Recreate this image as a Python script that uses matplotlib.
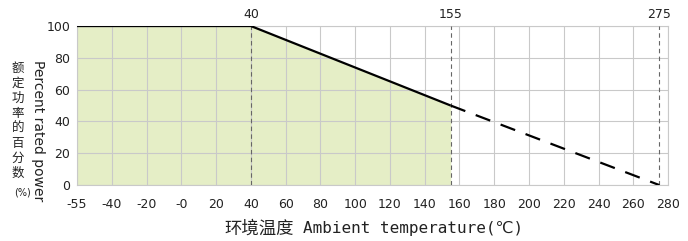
import matplotlib
matplotlib.use("Agg")
import matplotlib.pyplot as plt
import numpy as np

# Data
solid_temp = [-55, 40, 155]
solid_power = [100, 100, 50]
dash_temp = [155, 275]
dash_power = [50, 0]
xtick_vals = [-55, -40, -20, 0, 20, 40, 60, 80, 100, 120, 140, 160, 180, 200, 220, 240, 260, 280]
xtick_labels = ["-55", "-40", "-20", "-0", "20", "40", "60", "80", "100", "120", "140",
                "160", "180", "200", "220", "240", "260", "280"]
ytick_vals = [0, 20, 40, 60, 80, 100]
marker_temps = [40, 155, 275]


def fwd(x):
    x = np.asarray(x, dtype=float)
    return np.where(x >= -40, x, -40 + (x + 40) * (20.0 / 15.0))


def inv(y):
    y = np.asarray(y, dtype=float)
    return np.where(y >= -40, y, -40 + (y + 40) * (15.0 / 20.0))


fig = plt.figure(figsize=(6.88, 2.41), dpi=100)
ax = fig.add_axes([0.112, 0.232, 0.859, 0.66])
ax.set_xscale("function", functions=(fwd, inv))
ax.set_xlim(-55, 280)
ax.set_ylim(0, 100)

grid_c = "#c9c9c9"
ax.set_xticks(xtick_vals)
ax.set_xticklabels(xtick_labels)
ax.set_yticks(ytick_vals)
ax.tick_params(length=0, labelsize=9, colors="#222222")
ax.tick_params(axis="x", pad=9)
ax.tick_params(axis="y", pad=5)
ax.grid(True, color=grid_c, lw=0.8)
for s in ax.spines.values():
    s.set_color(grid_c)
    s.set_linewidth(0.8)

ax.fill_between(solid_temp, solid_power, 0, color="#e5eec6", lw=0, zorder=1)
ax.plot(solid_temp, solid_power, color="black", lw=1.6, zorder=4, solid_capstyle="butt")
ax.plot(dash_temp, dash_power, color="black", lw=1.6, zorder=4, dashes=(7, 5))

for t in marker_temps:
    ax.axvline(t, color="#666666", lw=0.8, dashes=(4, 3), zorder=3)
    ax.text(t, 103, str(t), ha="center", va="bottom", fontsize=9, color="#222222")

fig.text(0.427, 0.052, "环境温度", ha="right", va="center",
         fontsize=12.5, family=["Noto Sans CJK SC"], color="#222222")
fig.text(0.44, 0.052, "Ambient temperature(℃)", ha="left", va="center",
         fontsize=11.5, family=["DejaVu Sans Mono", "DejaVu Sans"], color="#222222")

fig.text(0.055, 0.456, "Percent rated power", rotation=270, ha="center", va="center",
         fontsize=10, color="#222222")
fig.text(0.026, 0.5, "\n".join("额定功率的百分数"), ha="center", va="center",
         fontsize=9, family=["Noto Sans CJK SC"], linespacing=1.2, color="#222222")
fig.text(0.032, 0.2, "(%)", ha="center", va="center", fontsize=7, color="#222222")

fig.savefig("out.png", dpi=100)
